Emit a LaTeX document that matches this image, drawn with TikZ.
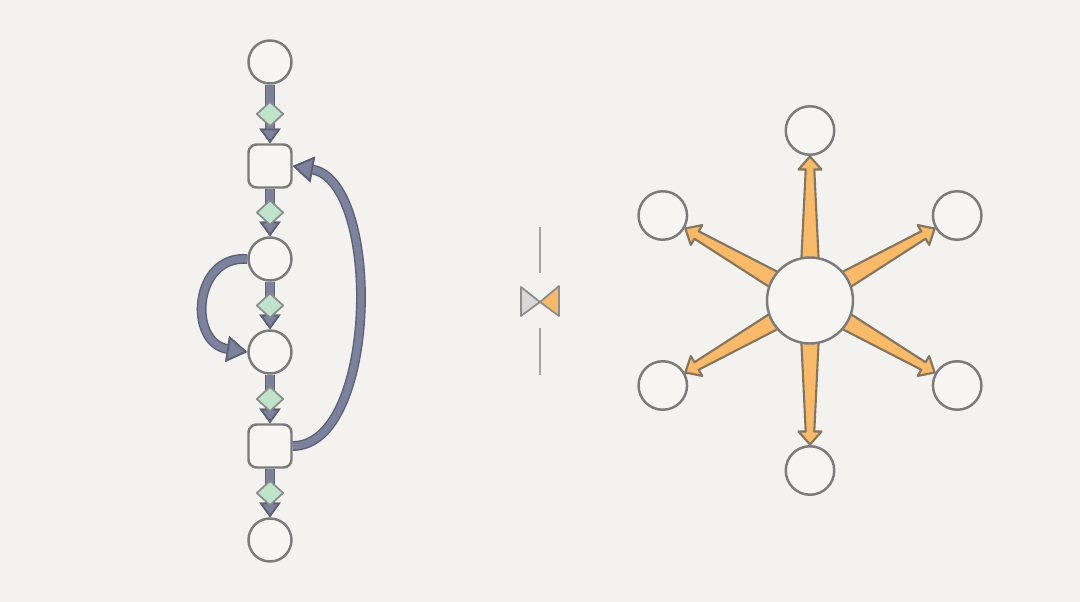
\documentclass[tikz,border=0pt]{standalone}
\usetikzlibrary{arrows.meta, shapes.geometric, calc, positioning}

\definecolor{paper}{HTML}{F3F2EE}
\definecolor{nodefill}{HTML}{F6F5F2}
\definecolor{nodeline}{HTML}{7B7B7B}
\definecolor{chainfill}{HTML}{7C829C}
\definecolor{chainedge}{HTML}{5B6075}
\definecolor{gatefill}{HTML}{BFE3CB}
\definecolor{gateline}{HTML}{8C8C8C}
\definecolor{spokefill}{HTML}{F8B968}
\definecolor{spokeline}{HTML}{857560}
\definecolor{bowgray}{HTML}{D8D8D8}
\definecolor{rule}{HTML}{A4A4A4}

\tikzset{
  state/.style={circle, draw=nodeline, fill=nodefill, line width=0.7pt,
    minimum size=4.3mm, inner sep=0pt},
  task/.style={rectangle, rounded corners=0.8mm, draw=nodeline, fill=nodefill,
    line width=0.7pt, minimum size=4.3mm, inner sep=0pt},
  leaf/.style={state, minimum size=4.85mm},
  hubstate/.style={state, minimum size=8.6mm},
  gate/.style={diamond, draw=gateline, fill=gatefill, line width=0.5pt,
    minimum width=2.7mm, minimum height=2.5mm, inner sep=0pt},
  flow/.style={draw=chainfill, line width=2pt, line join=round,
    preaction={draw=chainedge, line width=2.8pt},
    -{Triangle[length=4.2pt, width=6pt, fill=chainfill, color=chainedge, line width=0.5pt]}},
  loopflow/.style={flow,
    -{Triangle[length=5.8pt, width=7.4pt, fill=chainfill, color=chainedge, line width=0.5pt]}},
  spoke/.style={fill=spokefill, draw=spokeline, line width=0.6pt, line join=round},
  bow/.style={draw=gateline, line width=0.5pt, line join=round}
}

\begin{document}
\begin{tikzpicture}[x=0.1mm, y=0.1mm]
\useasboundingbox[fill=paper] (0,0) rectangle (1080,602);

        % Draw the chain
        \node[state] at (270, 540)  (c1)  {};
        \node[task]  at (270, 436)  (c2)  {};
        \node[state] at (270, 343)  (c3)  {};
        \node[state] at (270, 250)  (c4)  {};
        \node[task]  at (270, 156)  (c5)  {};
        \node[state] at (270, 62)   (c6)  {};

\draw[flow]  (c1) -- node[gate] (g1) {} (c2);
\draw[flow]  (c2) -- node[gate] (g2) {} (c3);
\draw[flow]  (c3) -- node[gate] (g3) {} (c4);
\draw[flow]  (c4) -- node[gate] (g4) {} (c5);
\draw[flow]  (c5) -- node[gate] (g5) {} (c6);

        % Back and skip edges
\draw[loopflow]  (c3.west) .. controls (193, 347) and (188, 259) .. (c4.west);
\draw[loopflow]  (c5.east) .. controls (378, 156) and (382, 420) .. (c2.east);

        % Divider
\draw[rule, line width=0.45pt]  (540, 375) -- (540, 329);
\draw[rule, line width=0.45pt]  (540, 274) -- (540, 227);
\filldraw[bow, fill=bowgray]    (521, 315) -- (540, 300) -- (521, 286) -- cycle;
\filldraw[bow, fill=spokefill]  (559, 316) -- (540, 300) -- (559, 286) -- cycle;

        % Draw the star
        \coordinate (hubc) at (810, 301.5);
        \node[leaf] at (810, 471.5)    (o1)  {};
        \node[leaf] at (957.2, 386.5)  (o2)  {};
        \node[leaf] at (957.2, 216.5)  (o3)  {};
        \node[leaf] at (810, 131.5)    (o4)  {};
        \node[leaf] at (662.8, 216.5)  (o5)  {};
        \node[leaf] at (662.8, 386.5)  (o6)  {};

\foreach \a/\n in {90/o1, 30/o2, -30/o3, -90/o4, -150/o5, 150/o6}
  \filldraw[spoke] ($(hubc)+(\a:38)+(\a+90:8.8)$)
    -- ($(hubc)+(\a:131)+(\a+90:4.3)$)
    -- ($(hubc)+(\a:131)+(\a+90:11.5)$)
    -- ($(\n)!2.6mm!(hubc)$)
    -- ($(hubc)+(\a:131)+(\a-90:11.5)$)
    -- ($(hubc)+(\a:131)+(\a-90:4.3)$)
    -- ($(hubc)+(\a:38)+(\a-90:8.8)$) -- cycle;

        \node[hubstate] at (hubc)  (hub)  {};
\end{tikzpicture}
\end{document}
